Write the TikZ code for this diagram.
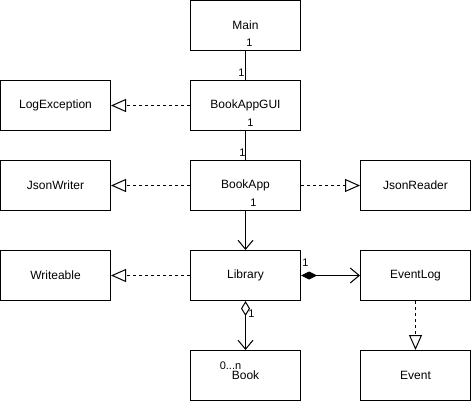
\documentclass[tikz,border=0pt]{standalone}
\usepackage{fontspec}
\setmainfont{Liberation Sans}
\usetikzlibrary{arrows.meta}

\newcommand{\umlbox}[3]{
	\node[classbox] (#1) at (#2) {#3};
}

\begin{document}
\begin{tikzpicture}[x=1pt,y=-1pt,line width=1pt,
	classbox/.style={draw,minimum width=110pt,minimum height=50pt,inner sep=0pt,font=\fontsize{12}{14}\selectfont},
	mult/.style={inner sep=0pt,font=\fontsize{11}{13}\selectfont},
	realize/.style={dash pattern=on 3pt off 3pt,-{Triangle[open,length=15pt,width=13pt]}},
	assoc/.style={-{Straight Barb[length=9pt,width=15pt]}}]
\useasboundingbox (-0.5,-0.5) rectangle (470.5,400.5);

\umlbox{main}{245,25}{Main}
\umlbox{gui}{245,105}{BookAppGUI}
\umlbox{app}{245,185}{BookApp}
\umlbox{lib}{245,275}{Library}
\umlbox{book}{245,375}{Book}
\umlbox{logexc}{55,105}{LogException}
\umlbox{writer}{55,185}{JsonWriter}
\umlbox{writeable}{55,275}{Writeable}
\umlbox{reader}{415,185}{JsonReader}
\umlbox{eventlog}{415,275}{EventLog}
\umlbox{event}{415,375}{Event}

% realizations
\draw[realize] (gui) -- (logexc);
\draw[realize] (app) -- (writer);
\draw[realize] (app) -- (reader);
\draw[realize] (lib) -- (writeable);
\draw[realize] (eventlog) -- (event);

% associations
\draw (main) -- (gui);
\draw (gui) -- (app);
\draw[assoc] (app) -- (lib);
\draw[{Diamond[length=16pt,width=8pt]}-{Straight Barb[length=9pt,width=15pt]}] (lib) -- (eventlog);
\draw[{Diamond[open,length=15pt,width=9pt]}-{Straight Barb[length=9pt,width=15pt]}] (lib) -- (book);

% multiplicities
\node[mult] (mmain) at (249,42) {1};
\node[mult] (mgui) at (241,72) {1};
\node[mult] (mguib) at (250,122) {1};
\node[mult] (mapp) at (242,152) {1};
\node[mult] (mappb) at (253,202) {1};
\node[mult] (mlib) at (305,262) {1};
\node[mult] (mlibb) at (251,313) {1};
\node[mult] (mbook) at (230,365) {0...n};
\end{tikzpicture}
\end{document}
